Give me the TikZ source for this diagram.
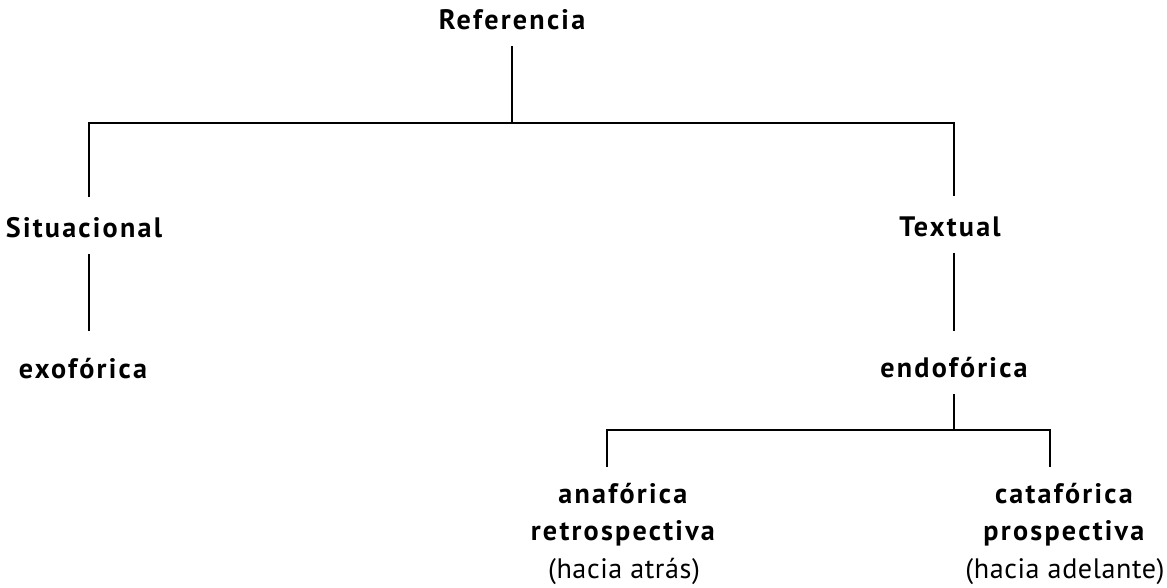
\documentclass[tikz,border=0pt]{standalone}
\usepackage{fontspec}
\setmainfont{PT Sans}[LetterSpace=8]
\newfontfamily\leaffont{PT Sans}[LetterSpace=2]
\usetikzlibrary{positioning}

\tikzset{
  term/.style={font=\bfseries\fontsize{20}{24}\selectfont, anchor=base,
    text height=14pt, text depth=4pt, inner xsep=0pt, inner ysep=8pt},
  leaf/.style={font=\fontsize{20}{26.6}\selectfont, align=center, anchor=north, inner sep=0pt},
  edge/.style={line width=0.9pt}
}
\newcommand{\sub}[1]{{\leaffont #1}}

\begin{document}
\begin{tikzpicture}[x=0.025cm,y=-0.025cm]
  \useasboundingbox (0,0) rectangle (1167,587);
  % top level
  \node[term] (ref) at (512,29) {Referencia};
  \node[term] (sit) at (84,237) {Situacional};
  \node[term] (txt) at (950,236) {Textual};
  % second level
  \node[term] (exo) at (83,378) {exof\'orica};
  \node[term] (endo) at (954,377) {endof\'orica};
  % leaves
  \node[leaf] (ana) at (624,483) {\textbf{anaf\'orica}\\\textbf{retrospectiva}\\\sub{(hacia atr\'as)}};
  \node[leaf] (cata) at (1065,483) {\textbf{cataf\'orica}\\\textbf{prospectiva}\\\sub{(hacia adelante)}};
  % bar ends
  \coordinate (barL) at (89,123);
  \coordinate (barR) at (954,123);
  \coordinate (subL) at (607,430);
  \coordinate (subR) at (1050,430);

  \draw[edge] (ref.south) -- (ref.south |- barL);
  \draw[edge, shorten <=6.4pt, shorten >=6.4pt] (barL |- sit.north) -- (barL) -- (barR) -- (barR |- txt.north);
  \draw[edge, shorten >=11.3pt] (barL |- sit.south) -- (barL |- exo.north);
  \draw[edge, shorten >=10.6pt] (barR |- txt.south) -- (barR |- endo.north);
  \draw[edge] (endo.south) -- (endo.south |- subL);
  \draw[edge, shorten <=11.3pt, shorten >=11.3pt] (subL |- ana.north) -- (subL) -- (subR) -- (subR |- cata.north);
\end{tikzpicture}
\end{document}
